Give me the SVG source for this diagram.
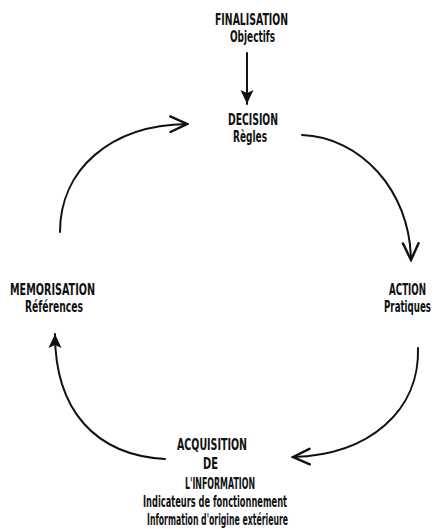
<svg xmlns="http://www.w3.org/2000/svg" width="441" height="529" viewBox="0 0 441 529">
  <style>
    .lbl { font-family: "Liberation Sans Narrow", "DejaVu Sans Condensed", "Liberation Sans", sans-serif; font-weight: bold; font-size: 15px; fill: #111; }
    .end { text-anchor: end; }
    .arc { fill: none; stroke: #111; stroke-width: 2; stroke-linecap: round; }
  </style>
  <defs>
    <marker id="chev" markerUnits="userSpaceOnUse" markerWidth="20" markerHeight="20" viewBox="-16 -9 18 18" refX="0" refY="0" orient="auto">
      <path d="M-15,-7 L0,0 L-15,7" fill="none" stroke="#111" stroke-width="2.2" stroke-linecap="round" stroke-linejoin="miter"/>
    </marker>
    <marker id="tri" markerUnits="userSpaceOnUse" markerWidth="16" markerHeight="16" viewBox="-14 -8 16 16" refX="0" refY="0" orient="auto">
      <path d="M-14,-6.5 L0,0 L-14,6.5 L-11,0 Z" fill="#111"/>
    </marker>
  </defs>

  <g id="connectors">
    <!-- finalisation feeds decision -->
    <path d="M247,53 L247,104" class="arc" stroke-width="1.6" marker-end="url(#tri)"/>
    <!-- decision to action -->
    <path d="M302,135 C360,137 410,190 411,260" class="arc" marker-end="url(#chev)"/>
    <!-- action to acquisition -->
    <path d="M418,348 C420,410 370,455 293,457" class="arc" marker-end="url(#chev)"/>
    <!-- acquisition to memorisation -->
    <path d="M165,459 C95,455 55,410 55,334" class="arc" marker-end="url(#tri)"/>
    <!-- memorisation to decision -->
    <path d="M60,232 C60,170 110,125 187,124" class="arc" marker-end="url(#chev)"/>
  </g>

  <g id="finalisation">
    <text class="lbl" x="215" y="25" textLength="73" lengthAdjust="spacingAndGlyphs">FINALISATION</text>
    <text class="lbl" x="230" y="42" textLength="45" lengthAdjust="spacingAndGlyphs">Objectifs</text>
  </g>

  <g id="decision">
    <text class="lbl" x="228" y="125" textLength="50" lengthAdjust="spacingAndGlyphs">DECISION</text>
    <text class="lbl" x="233" y="142" textLength="34" lengthAdjust="spacingAndGlyphs">Règles</text>
  </g>

  <g id="action">
    <text class="lbl end" x="426" y="295" textLength="37" lengthAdjust="spacingAndGlyphs">ACTION</text>
    <text class="lbl end" x="431" y="312" textLength="47" lengthAdjust="spacingAndGlyphs">Pratiques</text>
  </g>

  <g id="memorisation">
    <text class="lbl" x="10" y="295" textLength="85" lengthAdjust="spacingAndGlyphs">MEMORISATION</text>
    <text class="lbl" x="25" y="312" textLength="58" lengthAdjust="spacingAndGlyphs">Références</text>
  </g>

  <g id="acquisition">
    <text class="lbl" x="177" y="450" textLength="70" lengthAdjust="spacingAndGlyphs">ACQUISITION</text>
    <text class="lbl" x="203" y="469" textLength="15" lengthAdjust="spacingAndGlyphs">DE</text>
    <text class="lbl" x="185" y="489" textLength="70" lengthAdjust="spacingAndGlyphs">L'INFORMATION</text>
    <text class="lbl" x="143" y="507" textLength="144" lengthAdjust="spacingAndGlyphs">Indicateurs de fonctionnement</text>
    <text class="lbl" x="147" y="525" textLength="141" lengthAdjust="spacingAndGlyphs">Information d'origine extérieure</text>
  </g>
</svg>
